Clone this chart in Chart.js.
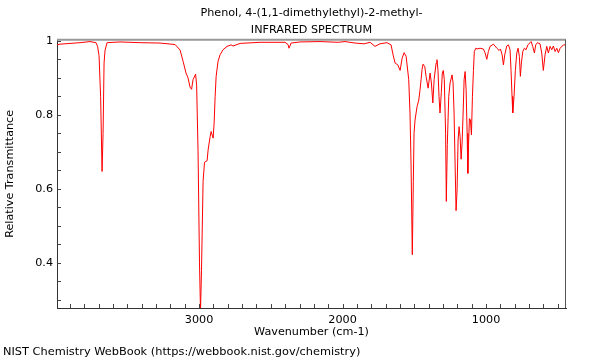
<!DOCTYPE html>
<html>
<head>
<meta charset="utf-8">
<script src="https://cdn.jsdelivr.net/npm/chart.js@4.4.1/dist/chart.umd.min.js"></script>
<style>
  html, body { margin: 0; padding: 0; background: #fff; }
  #wrap { width: 600px; height: 360px; }
</style>
</head>
<body>
<div id="wrap"><canvas id="canvas" width="600" height="360"></canvas></div>
<script>
// spectrum: wavenumber (cm-1) and relative transmittance
const wavenumbers = [
    3990, 3969, 3899, 3829, 3760, 3718, 3707, 3697, 3686, 3676, 3669, 3662, 3655, 3641,
    3551, 3411, 3272, 3167, 3132, 3111, 3091, 3077, 3063, 3052, 3042, 3024, 3017, 3007,
    2997, 2990, 2983, 2972, 2962, 2944, 2937, 2923, 2916, 2902, 2895, 2888, 2881, 2868,
    2854, 2833, 2805, 2777, 2763, 2742, 2714, 2575, 2401, 2380, 2373, 2359, 2296, 2157,
    2031, 1983, 1913, 1850, 1808, 1774, 1739, 1690, 1662, 1648, 1634, 1615, 1599, 1585,
    1571, 1557, 1539, 1530, 1523, 1514, 1507, 1502, 1495, 1481, 1469, 1460, 1453, 1446,
    1439, 1427, 1418, 1404, 1390, 1381, 1371, 1362, 1348, 1342, 1335, 1328, 1321, 1312,
    1305, 1298, 1291, 1282, 1277, 1270, 1260, 1251, 1237, 1230, 1223, 1216, 1209, 1202,
    1195, 1188, 1181, 1174, 1167, 1160, 1153, 1146, 1139, 1132, 1127, 1122, 1116, 1109,
    1102, 1095, 1088, 1082, 1072, 1063, 1042, 1019, 1007, 995, 984, 972, 949, 925,
    909, 900, 888, 879, 870, 856, 844, 833, 826, 819, 814, 805, 796, 786,
    777, 768, 761, 754, 744, 733, 721, 709, 693, 686, 675, 663, 654, 642,
    624, 612, 601, 589, 577, 566, 554, 542, 531, 519, 507, 496, 484, 461, 443
];
const transmittance = [
    0.989, 0.991, 0.993, 0.995, 0.998, 0.995, 0.985, 0.96, 0.85, 0.647, 0.75, 0.94, 0.975, 0.995,
    0.997, 0.995, 0.994, 0.99, 0.975, 0.944, 0.913, 0.90, 0.875, 0.869, 0.895, 0.91, 0.88, 0.70,
    0.40, 0.27, 0.38, 0.62, 0.672, 0.676, 0.705, 0.741, 0.755, 0.737, 0.778, 0.85, 0.904, 0.944,
    0.962, 0.976, 0.985, 0.989, 0.986, 0.989, 0.993, 0.996, 0.996, 0.99, 0.98, 0.994, 0.997, 0.998,
    0.996, 0.998, 0.994, 0.992, 0.996, 0.985, 0.992, 0.995, 0.989, 0.962, 0.94, 0.935, 0.92, 0.953,
    0.968, 0.958, 0.895, 0.805, 0.67, 0.422, 0.62, 0.75, 0.786, 0.822, 0.84, 0.868, 0.895, 0.923,
    0.937, 0.93, 0.904, 0.872, 0.913, 0.886, 0.832, 0.895, 0.94, 0.949, 0.92, 0.85, 0.805, 0.86,
    0.913, 0.92, 0.895, 0.75, 0.566, 0.72, 0.85, 0.886, 0.908, 0.886, 0.805, 0.67, 0.541, 0.597,
    0.732, 0.768, 0.741, 0.68, 0.724, 0.805, 0.895, 0.917, 0.868, 0.75, 0.642, 0.72, 0.79, 0.786,
    0.746, 0.85, 0.92, 0.971, 0.98, 0.978, 0.98, 0.978, 0.968, 0.95, 0.971, 0.985, 0.991, 0.98,
    0.974, 0.978, 0.962, 0.935, 0.962, 0.986, 0.989, 0.976, 0.92, 0.85, 0.805, 0.85, 0.92, 0.967,
    0.98, 0.958, 0.904, 0.94, 0.971, 0.98, 0.976, 0.989, 0.995, 0.998, 0.985, 0.967, 0.989, 0.995,
    0.992, 0.967, 0.92, 0.962, 0.985, 0.967, 0.985, 0.976, 0.986, 0.971, 0.98, 0.968, 0.98, 0.989, 0.989
];

const xTicks = [];
for (let v = 500; v <= 3900; v += 100) xTicks.push(v);
const xLabels = [1000, 2000, 3000];
const yTicks = [0.3, 0.35, 0.4, 0.45, 0.5, 0.55, 0.6, 0.65, 0.7, 0.75, 0.8, 0.85, 0.9, 0.95, 1];
const yLabels = [0.4, 0.6, 0.8, 1];

const titleLines = ['Phenol, 4-(1,1-dimethylethyl)-2-methyl-', 'INFRARED SPECTRUM'];
const footer = 'NIST Chemistry WebBook (https://webbook.nist.gov/chemistry)';
const FONT = 'DejaVu Sans';
const FS = 11.2;

const near = (list, v) => list.some(l => Math.abs(l - v) < 1e-6);

// inward tick marks, grey frame on top/right, footer line
const frame = {
    id: 'frame',
    afterDraw(chart) {
        const {ctx, chartArea: a, scales: {x, y}} = chart;
        ctx.save();
        ctx.strokeStyle = '#444';
        ctx.lineWidth = 1;
        ctx.beginPath();
        xTicks.forEach(v => {
            const px = Math.round(x.getPixelForValue(v)) + 0.5;
            ctx.moveTo(px, a.bottom);
            ctx.lineTo(px, a.bottom - 4);
        });
        yTicks.forEach(v => {
            const py = Math.round(y.getPixelForValue(v)) + 0.5;
            ctx.moveTo(a.left, py);
            ctx.lineTo(a.left + 4, py);
        });
        ctx.stroke();

        ctx.strokeStyle = '#999';
        ctx.lineWidth = 2;
        ctx.beginPath();
        ctx.moveTo(a.left, a.top);
        ctx.lineTo(a.right, a.top);
        ctx.stroke();
        ctx.strokeStyle = '#555';
        ctx.lineWidth = 1;
        ctx.beginPath();
        ctx.moveTo(a.right - 0.5, a.top);
        ctx.lineTo(a.right - 0.5, a.bottom);
        ctx.stroke();

        ctx.fillStyle = '#000';
        ctx.font = '11.35px "' + FONT + '"';
        ctx.textAlign = 'left';
        ctx.textBaseline = 'middle';
        ctx.fillText(footer, 3, 352);
        ctx.restore();
    }
};

new Chart(document.getElementById('canvas').getContext('2d'), {
    type: 'line',
    data: {
        datasets: [{
            data: wavenumbers.map((w, i) => ({x: w, y: transmittance[i]})),
            borderColor: 'rgb(255,0,0)',
            borderWidth: 1,
            pointRadius: 0,
            tension: 0,
            fill: false
        }]
    },
    options: {
        responsive: false,
        animation: false,
        layout: {padding: {left: 0, right: 34, top: 0, bottom: 0}},
        plugins: {
            legend: {display: false},
            tooltip: {enabled: false},
            title: {
                display: true,
                fullSize: false,
                text: titleLines,
                color: '#000',
                font: {family: FONT, size: FS, weight: 'normal', lineHeight: 1.55},
                padding: {top: 4, bottom: 1}
            }
        },
        scales: {
            x: {
                type: 'linear',
                reverse: true,
                min: 443,
                max: 3990,
                afterFit: s => { s.height = 52; },
                afterBuildTicks: s => { s.ticks = xTicks.map(v => ({value: v})); },
                grid: {display: false, drawTicks: false},
                border: {display: true, color: '#333', width: 1},
                ticks: {
                    autoSkip: false,
                    maxRotation: 0,
                    padding: 5,
                    color: '#000',
                    font: {family: FONT, size: FS},
                    callback: v => near(xLabels, v) ? String(v) : ''
                },
                title: {
                    display: true,
                    text: 'Wavenumber (cm-1)',
                    color: '#000',
                    font: {family: FONT, size: FS},
                    padding: {top: 0, bottom: 21}
                }
            },
            y: {
                min: 0.278,
                max: 1.003,
                afterFit: s => { s.width = 57; },
                afterBuildTicks: s => { s.ticks = yTicks.map(v => ({value: v})); },
                grid: {display: false, drawTicks: false},
                border: {display: true, color: '#333', width: 1},
                ticks: {
                    autoSkip: false,
                    padding: 4,
                    color: '#000',
                    font: {family: FONT, size: FS},
                    callback: v => near(yLabels, v) ? String(v) : ''
                },
                title: {
                    display: true,
                    text: 'Relative Transmittance',
                    color: '#000',
                    font: {family: FONT, size: FS},
                    padding: {top: 3, bottom: 0}
                }
            }
        }
    },
    plugins: [frame]
});
</script>
</body>
</html>
